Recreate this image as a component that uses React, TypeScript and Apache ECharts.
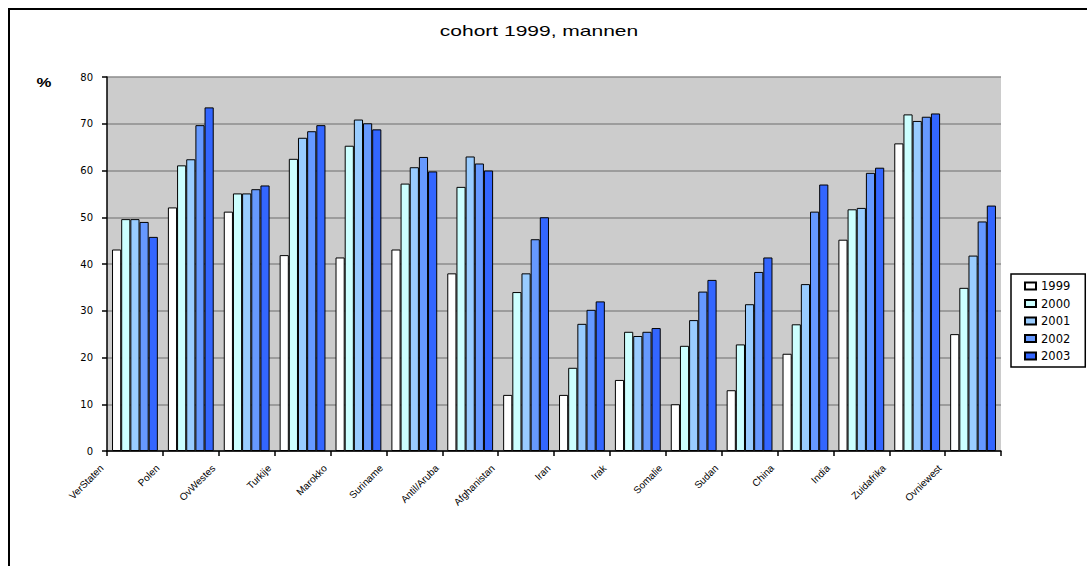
import React, { useEffect, useRef } from "react";
import * as echarts from "echarts";

const categories = [
  "VerStaten", "Polen", "OvWestes", "Turkije", "Marokko", "Suriname", "Antil/Aruba", "Afghanistan",
  "Iran", "Irak", "Somalie", "Sudan", "China", "India", "Zuidafrika", "Ovniewest",
];
const years = ["1999", "2000", "2001", "2002", "2003"];
const v1999 = [43.1, 52.1, 51.2, 41.9, 41.4, 43.1, 38.0, 12.0, 12.0, 15.2, 10.0, 13.0, 20.8, 45.2, 65.8, 25.0];
const v2000 = [49.6, 61.1, 55.1, 62.5, 65.3, 57.2, 56.5, 34.0, 17.8, 25.5, 22.5, 22.8, 27.1, 51.7, 72.0, 34.9];
const v2001 = [49.6, 62.4, 55.1, 67.0, 70.9, 60.7, 63.0, 38.0, 27.2, 24.6, 28.0, 31.4, 35.7, 52.0, 70.6, 41.8];
const v2002 = [49.0, 69.7, 56.0, 68.4, 70.1, 62.9, 61.5, 45.3, 30.2, 25.5, 34.1, 38.3, 51.2, 59.5, 71.5, 49.1];
const v2003 = [45.8, 73.5, 56.8, 69.7, 68.8, 59.8, 60.0, 50.0, 32.0, 26.3, 36.6, 41.4, 57.0, 60.6, 72.2, 52.5];
const seriesValues = [v1999, v2000, v2001, v2002, v2003];
const colors = ["#FFFFFF", "#CCFFFF", "#99CCFF", "#6699FF", "#3366FF"];
const yTicks = { min: 0, max: 80, interval: 10 };

export default function App() {
  const ref = useRef<HTMLDivElement>(null);
  useEffect(() => {
    if (!ref.current) return;
    const chart = echarts.init(ref.current, undefined, { renderer: "svg" });
    chart.setOption({
      animation: false,
      backgroundColor: "#FFFFFF",
      graphic: [
        {
          type: "rect",
          silent: true,
          z: -10,
          shape: { x: 9, y: 9, width: 1100, height: 600 },
          style: { fill: "none", stroke: "#000", lineWidth: 2 },
        },
        {
          type: "text",
          x: 539,
          y: 31,
          scaleX: 1.5,
          style: {
            text: "cohort 1999, mannen",
            x: 0,
            y: 0,
            textAlign: "center",
            textVerticalAlign: "middle",
            font: '14px "Liberation Sans"',
            fill: "#000",
          },
        },
        {
          type: "text",
          x: 44,
          y: 83,
          scaleX: 1.4,
          style: {
            text: "%",
            x: 0,
            y: 0,
            textAlign: "center",
            textVerticalAlign: "middle",
            font: 'bold 12px "Liberation Sans"',
            fill: "#000",
          },
        },
      ],
      legend: {
        orient: "vertical",
        left: 1011,
        top: 274,
        padding: [6, 15, 5, 13],
        borderColor: "#000",
        borderWidth: 1.5,
        itemWidth: 11,
        itemHeight: 7,
        itemGap: 5.5,
        icon: "rect",
        textStyle: { fontFamily: "DejaVu Sans", fontSize: 11.5, color: "#000" },
        data: years,
      },
      grid: {
        left: 107,
        right: 86,
        top: 77,
        bottom: 115,
        show: true,
        backgroundColor: "#CCCCCC",
        borderWidth: 0,
      },
      xAxis: {
        type: "category",
        data: categories,
        boundaryGap: true,
        axisLine: { show: true, lineStyle: { color: "#000", width: 1.5 } },
        axisTick: { show: true, interval: 0, length: 5, lineStyle: { color: "#000", width: 1.5 } },
        axisLabel: {
          interval: 0,
          rotate: 45,
          margin: 19,
          align: "right",
          verticalAlign: "bottom",
          fontFamily: "Liberation Sans",
          fontSize: 10,
          color: "#000",
          padding: [0, 21, 21, 0],
        },
      },
      yAxis: {
        type: "value",
        min: yTicks.min,
        max: yTicks.max,
        interval: yTicks.interval,
        axisLine: { show: true, lineStyle: { color: "#000", width: 1.5 } },
        axisTick: { show: true, length: 5, lineStyle: { color: "#000", width: 1.5 } },
        axisLabel: { margin: 14, fontFamily: "DejaVu Sans", fontSize: 10, color: "#000" },
        splitLine: { show: true, lineStyle: { color: "#8C8C8C", width: 1.5 } },
      },
      series: years.map((y, i) => ({
        name: y,
        type: "bar",
        data: seriesValues[i],
        barGap: "0%",
        barCategoryGap: "18%",
        itemStyle: { color: colors[i], borderColor: "#000", borderWidth: 1 },
      })),
    });
    return () => chart.dispose();
  }, []);
  return (
    <div
      ref={ref}
      style={{ position: "absolute", left: 0, top: 0, width: 1087, height: 566 }}
    />
  );
}
